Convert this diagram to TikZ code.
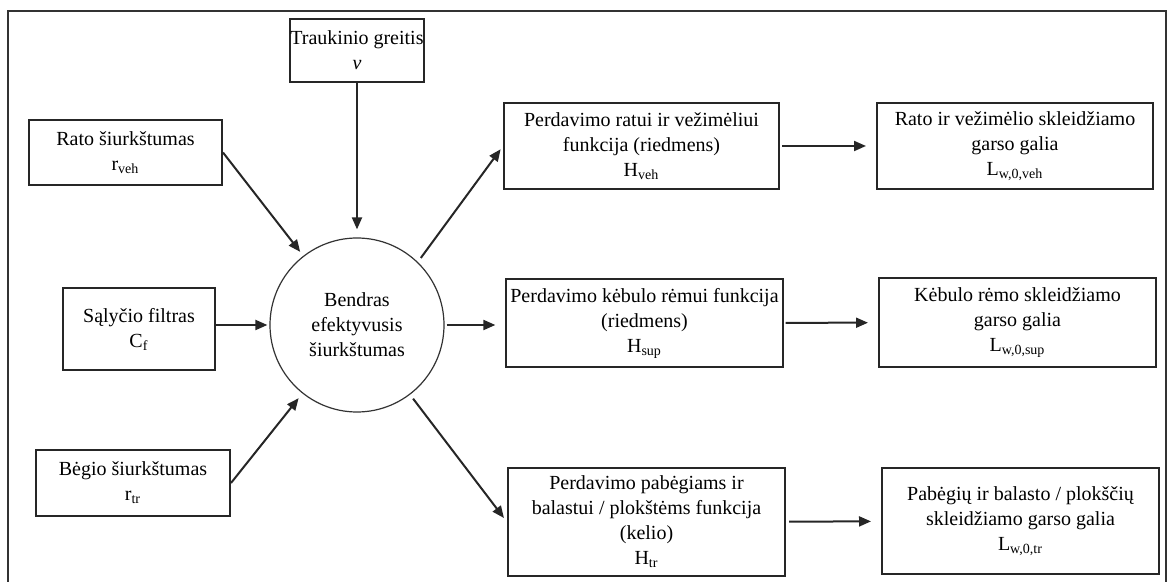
\documentclass[tikz,border=0pt]{standalone}
\usepackage{fontspec}
\setmainfont{Liberation Serif}
\usetikzlibrary{arrows.meta}
\begin{document}
\begin{tikzpicture}[x=0.5pt,y=-0.5pt,
	box/.style={draw=black!85,line width=1pt,align=center,inner sep=2pt,font=\fontsize{10}{12.5}\selectfont},
	hub/.style={draw=black!80,circle,line width=0.6pt,minimum size=87pt,inner sep=0pt,align=center,font=\fontsize{10}{12.5}\selectfont},
	link/.style={draw=black!85,line width=1pt,-{Triangle[length=6pt,width=5pt]}}]
	\useasboundingbox (0,0) rectangle (1168,582);
	\draw[black!80,line width=0.8pt] (8,11) rectangle (1166,600);
	\node[box,inner xsep=0pt,minimum width=67pt,minimum height=31.5pt] (trk) at (357,50.5) {Traukinio greitis\\\textit{v}};
	\node[box,minimum width=96.5pt,minimum height=32.5pt] (rato) at (125.5,152.5) {Rato šiurkštumas\\r\textsubscript{veh}};
	\node[box,minimum width=76pt,minimum height=41pt] (sal) at (139,329) {Sąlyčio filtras\\C\textsubscript{f}};
	\node[box,minimum width=97pt,minimum height=33pt] (begio) at (133,483) {Bėgio šiurkštumas\\r\textsubscript{tr}};
	\node[hub] (eff) at (357,325) {Bendras\\efektyvusis\\šiurkštumas};
	\node[box,minimum width=137.5pt,minimum height=43pt] (hveh) at (641.5,146) {Perdavimo ratui ir vežimėliui\\funkcija (riedmens)\\H\textsubscript{veh}};
	\node[box,minimum width=138pt,minimum height=43pt] (lveh) at (1015,146) {Rato ir vežimėlio skleidžiamo\\garso galia\\L\textsubscript{w,0,veh}};
	\node[box,minimum width=137.5pt,minimum height=44pt] (hsup) at (644.5,323) {Perdavimo kėbulo rėmui funkcija\\(riedmens)\\H\textsubscript{sup}};
	\node[box,minimum width=138.5pt,minimum height=44.5pt] (lsup) at (1017.5,322.5) {Kėbulo rėmo skleidžiamo\\garso galia\\L\textsubscript{w,0,sup}};
	\node[box,minimum width=138.5pt,minimum height=54pt] (htr) at (646.5,522) {Perdavimo pabėgiams ir\\balastui / plokštėms funkcija\\(kelio)\\H\textsubscript{tr}};
	\node[box,minimum width=138.5pt,minimum height=53pt] (ltr) at (1020.5,521) {Pabėgių ir balasto / plokščių\\skleidžiamo garso galia\\L\textsubscript{w,0,tr}};
	\draw[link,shorten >=4pt] (trk.south) -- (eff.north);
	\draw[link,shorten >=2.5pt] (rato.east) -- (eff);
	\draw[link,shorten >=1pt] (sal.east |- eff) -- (eff.west);
	\draw[link,shorten >=3pt] (begio.east) -- (eff);
	\draw[link,shorten <=2.5pt,shorten >=2pt] (eff.46) -- (hveh.west);
	\draw[link,shorten <=1pt,shorten >=5pt] (eff.east) -- (eff.east -| hsup.west);
	\draw[link,shorten <=2.5pt,shorten >=2.5pt] (eff) -- (htr.west);
	\draw[link,shorten <=1pt,shorten >=5pt] (hveh) -- (lveh);
	\draw[link,shorten <=1pt,shorten >=5pt] (hsup) -- (lsup);
	\draw[link,shorten <=1.5pt,shorten >=5pt] (htr) -- (ltr);
\end{tikzpicture}
\end{document}
